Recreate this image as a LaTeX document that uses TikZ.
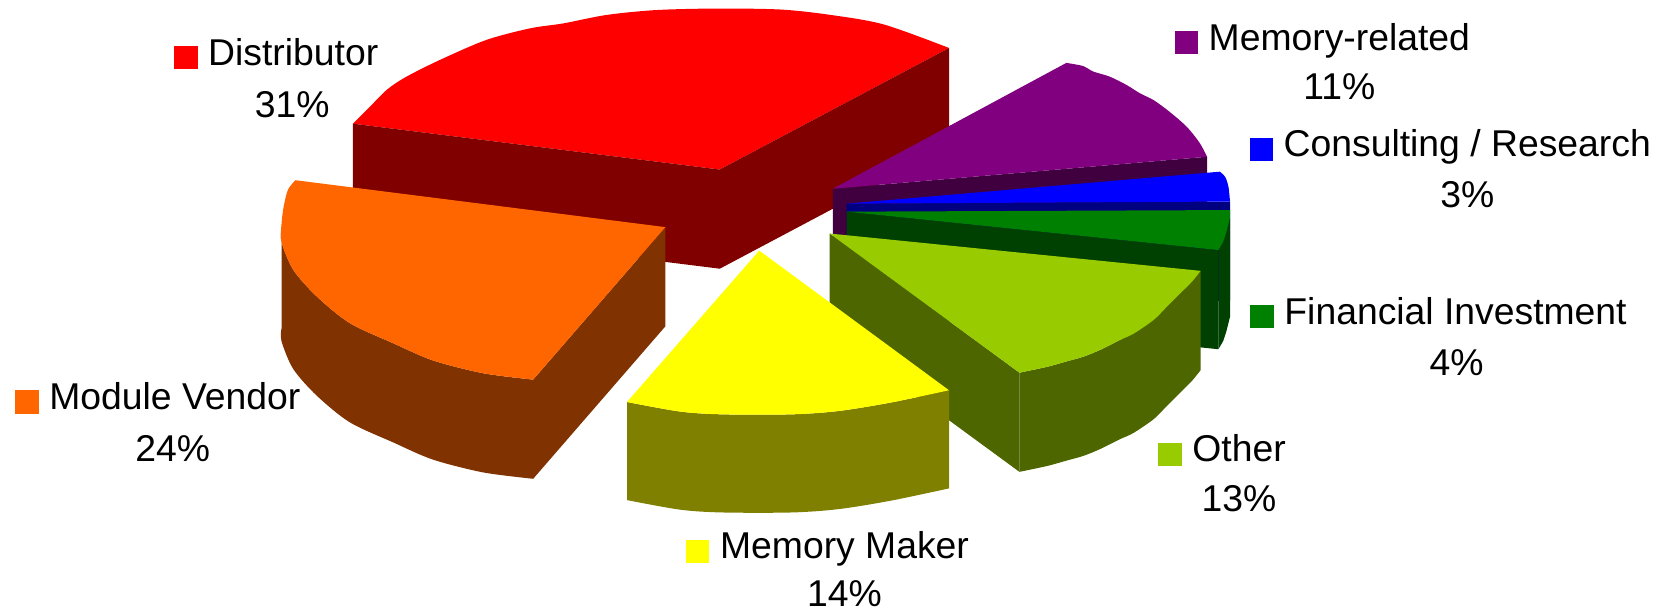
\documentclass[tikz,border=0pt]{standalone}
\usepackage{fontspec}
\setmainfont{Liberation Sans}
\definecolor{distTop}{RGB}{255,0,0}
\definecolor{distSide}{RGB}{128,0,0}
\definecolor{vendTop}{RGB}{255,102,0}
\definecolor{vendSide}{RGB}{128,51,0}
\definecolor{makerTop}{RGB}{255,255,0}
\definecolor{makerSide}{RGB}{128,128,0}
\definecolor{otherTop}{RGB}{153,204,0}
\definecolor{otherSide}{RGB}{77,102,0}
\definecolor{finTop}{RGB}{0,128,0}
\definecolor{finSide}{RGB}{0,64,0}
\definecolor{consTop}{RGB}{0,0,255}
\definecolor{consSide}{RGB}{0,0,128}
\definecolor{memTop}{RGB}{128,0,128}
\definecolor{memSide}{RGB}{64,0,64}
\newcommand{\legsq}[1]{\llap{\textcolor{#1}{\rule[-4pt]{22pt}{22pt}}\hspace{10pt}}}

\begin{document}
\begin{tikzpicture}[x=1pt,y=-1pt,
   leg/.style={anchor=base,inner sep=0pt,font=\fontsize{35}{42}\selectfont}]
   \useasboundingbox (0,0) rectangle (1568,575);
   % Distributor
   \fill[distTop] (331,116) -- (675,159) -- (890,45) -- plot[smooth] coordinates {(890,45) (829,23) (779,14) (733,9) (674,8) (616,9.4) (569,14) (528,22) (497,26.6) (456,37.5) (413,56) (381,72) (363,84) (347,100) (331,116)} -- cycle;
   \fill[distSide] (331,116) -- (675,159) -- (675,252) -- (331,209) -- cycle;
   \fill[distSide] (675,159) -- (890,45) -- (890,138) -- (675,252) -- cycle;
   % Memory-related
   \fill[memSide] (781,177) -- (1132,147) -- (1132,240) -- (781,270) -- cycle;
   \fill[memTop] (781,177) -- (1000,59) -- plot[smooth] coordinates {(1000,59) (1016,62) (1025,67) (1041,72) (1057,80) (1069,87.5) (1082,94) (1097,105) (1113,119) (1125,134) (1132,147)} -- cycle;
   % Consulting / Research
   \fill[consSide] (794,191) -- (1153.5,189) -- (1153.5,282) -- (794,284) -- cycle;
   \fill[consTop] (794,191) -- (1144,161) -- plot[smooth] coordinates {(1144,161) (1149,166) (1152,175) (1153.5,189)} -- cycle;
   % Financial Investment
   \fill[finSide] (794,198.5) -- (1142.6,234.5) -- (1142.6,327.5) -- (794,291.5) -- cycle;
   \fill[finSide] (1142.6,234.5) -- (1147,227) -- (1150,218) -- (1153.5,204) -- (1153.5,297) -- (1150,311) -- (1147,320) -- (1142.6,327.5) -- cycle;
   \fill[finTop] (794,198.5) -- (1153.5,197) -- (1153.5,204) -- (1150,218) -- (1147,227) -- (1142.6,234.5) -- cycle;
   % Other
   \fill[otherSide] (778,219) -- (956,349.5) -- (956,442.5) -- (778,312) -- cycle;
   \fill[otherSide] plot[smooth] coordinates {(1126,254) (1118,264) (1107,275) (1094,288) (1082,300) (1063,313) (1050,319) (1032,328) (1016,334.5) (1000,339) (982,344) (956,349.5)} -- plot[smooth] coordinates {(956,442.5) (982,437) (1000,432) (1016,427.5) (1032,421) (1050,412) (1063,406) (1082,393) (1094,381) (1107,368) (1118,357) (1126,347)} -- cycle;
   \fill[otherTop] (778,219) -- (1126,254) -- plot[smooth] coordinates {(1126,254) (1118,264) (1107,275) (1094,288) (1082,300) (1063,313) (1050,319) (1032,328) (1016,334.5) (1000,339) (982,344) (956,349.5)} -- cycle;
   % Module Vendor
   \fill[vendSide] (624,213) -- (500,356) -- (500,449) -- (624,306) -- cycle;
   \fill[vendSide] plot[smooth] coordinates {(264,215) (264,227) (275,253) (297,278) (328,303) (369,322) (406,338) (453,350) (500,356)} -- plot[smooth] coordinates {(500,449) (453,443) (406,431) (369,415) (328,396) (297,371) (275,346) (264,320) (264,308)} -- cycle;
   \fill[vendTop] (277,169) -- (624,213) -- (500,356) -- plot[smooth] coordinates {(500,356) (453,350) (406,338) (369,322) (328,303) (297,278) (275,253) (264,227) (264,210) (266,194) (270,178) (277,169)} -- cycle;
   % Memory Maker
   \fill[makerSide] plot[smooth] coordinates {(588,377) (638,386) (678,388.6) (742,388.6) (786,385.5) (835,377.6) (890,366)} -- (890,458) -- plot[smooth] coordinates {(890,458) (835,469.6) (786,477.5) (742,480.6) (678,480.6) (638,478) (588,469)} -- cycle;
   \fill[makerTop] (712,235) -- (588,377) -- plot[smooth] coordinates {(588,377) (638,386) (678,388.6) (742,388.6) (786,385.5) (835,377.6) (890,366)} -- cycle;
   % labels
   \node[leg] (dist)  at (275,61)   {\legsq{distTop}Distributor};
   \node[leg] (distp) at (274,110)  {31\%};
   \node[leg] (mem)   at (1256,47)  {\legsq{memTop}Memory-related};
   \node[leg] (memp)  at (1256,93)  {11\%};
   \node[leg] (cons)  at (1376,147) {\legsq{consTop}Consulting / Research};
   \node[leg] (consp) at (1376,195) {3\%};
   \node[leg] (fin)   at (1365,304) {\legsq{finTop}Financial Investment};
   \node[leg] (finp)  at (1366,352) {4\%};
   \node[leg] (oth)   at (1162,433) {\legsq{otherTop}Other};
   \node[leg] (othp)  at (1162,480) {13\%};
   \node[leg] (mak)   at (792,524)  {\legsq{makerTop}Memory Maker};
   \node[leg] (makp)  at (792,569)  {14\%};
   \node[leg] (vend)  at (164,384)  {\legsq{vendTop}Module Vendor};
   \node[leg] (vendp) at (162,433)  {24\%};
\end{tikzpicture}
\end{document}
